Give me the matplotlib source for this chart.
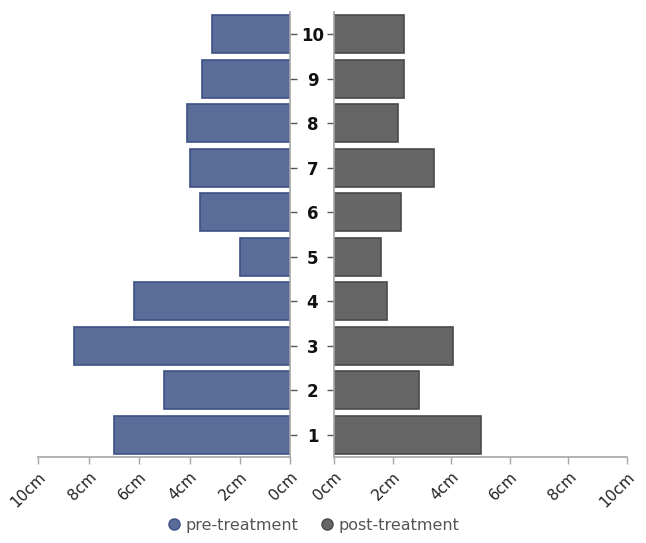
import matplotlib.pyplot as plt
from matplotlib.lines import Line2D

groups = [1, 2, 3, 4, 5, 6, 7, 8, 9, 10]
pre_treatment = [7.0, 5.0, 8.6, 6.2, 2.0, 3.6, 4.0, 4.1, 3.5, 3.1]
post_treatment = [5.0, 2.9, 4.05, 1.8, 1.6, 2.3, 3.4, 2.2, 2.4, 2.4]
x_ticks = [0, 2, 4, 6, 8, 10]
x_labels = ["{}cm".format(v) for v in x_ticks]

blue, blue_edge = "#5a6d98", "#3d5186"
grey, grey_edge = "#666666", "#4a4a4a"
spine_col = "#a6a6a6"

fig = plt.figure(figsize=(6.46, 5.43), dpi=100)
ax_l = fig.add_axes([38.3 / 646, 86 / 543, 252 / 646, 445 / 543])
ax_r = fig.add_axes([334 / 646, 86 / 543, 293 / 646, 445 / 543])

ax_l.barh(groups, pre_treatment, height=0.85, color=blue, edgecolor=blue_edge, linewidth=1.2)
ax_r.barh(groups, post_treatment, height=0.85, color=grey, edgecolor=grey_edge, linewidth=1.2)

for ax in (ax_l, ax_r):
    ax.set_xlim(0, 10)
    ax.set_ylim(0.5, 10.5)
    ax.set_xticks(x_ticks)
    ax.set_xticklabels(x_labels, rotation=45, ha="right", rotation_mode="anchor",
                       fontsize=11, color="#222222")
    ax.tick_params(axis="x", length=5, width=1, color=spine_col, pad=4)
    ax.set_yticks(groups)
    for s in ax.spines.values():
        s.set_color(spine_col)
        s.set_linewidth(1.2)
    ax.spines["top"].set_visible(False)

ax_l.invert_xaxis()
ax_l.spines["left"].set_visible(False)
ax_l.yaxis.tick_right()
ax_l.tick_params(axis="y", length=5, width=1, color="#555555", pad=11)
ax_l.set_yticklabels([str(g) for g in groups], fontsize=12, fontweight="bold", color="#111111")
for lab in ax_l.get_yticklabels():
    lab.set_horizontalalignment("center")

ax_r.spines["right"].set_visible(False)
ax_r.tick_params(axis="y", length=5, width=1, color="#555555", labelleft=False)

handles = [
    Line2D([], [], marker="o", linestyle="", markersize=8, markerfacecolor=blue,
           markeredgecolor=blue_edge, label="pre-treatment"),
    Line2D([], [], marker="o", linestyle="", markersize=8, markerfacecolor=grey,
           markeredgecolor=grey_edge, label="post-treatment"),
]
fig.legend(handles=handles, loc="lower center", bbox_to_anchor=(0.483, -0.008), ncol=2,
           frameon=False, fontsize=11.5, labelcolor="#555555", handletextpad=0.1,
           columnspacing=1.2, handlelength=1.2)

plt.savefig("out.png", dpi=100)
